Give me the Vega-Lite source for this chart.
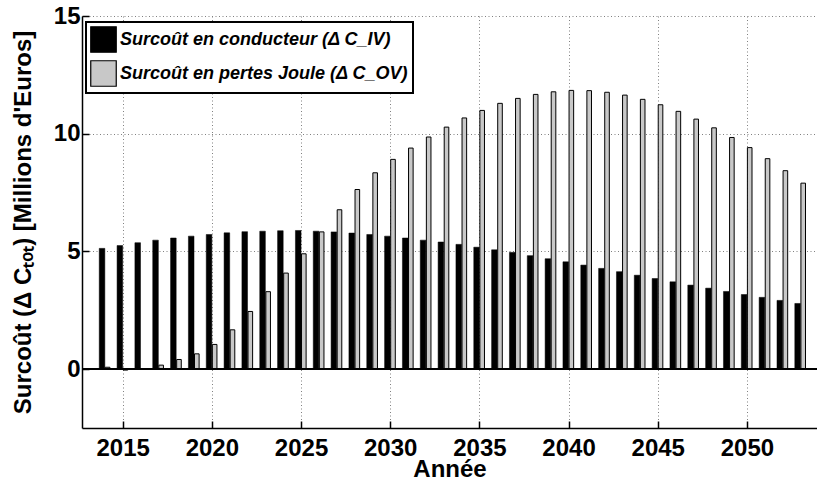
{
  "$schema": "https://vega.github.io/schema/vega-lite/v6.json",
  "width": 735,
  "height": 412,
  "autosize": {"type": "none"},
  "padding": {"left": 82, "top": 16, "right": 0, "bottom": 53},
  "background": "white",
  "config": {
    "view": {"stroke": null},
    "font": "Liberation Sans",
    "axis": {
      "labelFont": "Liberation Sans",
      "labelFontSize": 24,
      "labelFontWeight": "bold",
      "labelColor": "black",
      "titleFont": "Liberation Sans",
      "titleFontSize": 24,
      "titleFontWeight": "bold",
      "titleColor": "black",
      "domainColor": "black",
      "domainWidth": 1.5,
      "tickColor": "black",
      "tickWidth": 1.5,
      "grid": true,
      "gridColor": "#808080",
      "gridDash": [1, 2.5],
      "gridWidth": 1
    },
    "legend": {
      "orient": "none",
      "legendX": 4,
      "legendY": 6,
      "strokeColor": "black",
      "strokeWidth": 2,
      "fillColor": "white",
      "padding": 4,
      "symbolType": "square",
      "symbolSize": 650,
      "symbolStrokeColor": "black",
      "symbolStrokeWidth": 1.2,
      "labelFont": "Liberation Sans",
      "labelFontSize": 18,
      "labelFontStyle": "italic",
      "labelFontWeight": "bold",
      "labelColor": "black",
      "labelOffset": 3,
      "rowPadding": 3,
      "labelLimit": 400
    }
  },
  "data": {
    "values": [
      {"year": 2014, "cond": 5.13, "joule": 0.08},
      {"year": 2015, "cond": 5.25, "joule": -0.04},
      {"year": 2016, "cond": 5.37, "joule": 0.01},
      {"year": 2017, "cond": 5.48, "joule": 0.17},
      {"year": 2018, "cond": 5.57, "joule": 0.41},
      {"year": 2019, "cond": 5.65, "joule": 0.65},
      {"year": 2020, "cond": 5.72, "joule": 1.05},
      {"year": 2021, "cond": 5.79, "joule": 1.67},
      {"year": 2022, "cond": 5.84, "joule": 2.45},
      {"year": 2023, "cond": 5.86, "joule": 3.29},
      {"year": 2024, "cond": 5.88, "joule": 4.08},
      {"year": 2025, "cond": 5.89, "joule": 4.90},
      {"year": 2026, "cond": 5.86, "joule": 5.83},
      {"year": 2027, "cond": 5.83, "joule": 6.77},
      {"year": 2028, "cond": 5.78, "joule": 7.63},
      {"year": 2029, "cond": 5.72, "joule": 8.34},
      {"year": 2030, "cond": 5.65, "joule": 8.91},
      {"year": 2031, "cond": 5.57, "joule": 9.39},
      {"year": 2032, "cond": 5.48, "joule": 9.86},
      {"year": 2033, "cond": 5.40, "joule": 10.28},
      {"year": 2034, "cond": 5.30, "joule": 10.67},
      {"year": 2035, "cond": 5.18, "joule": 10.99},
      {"year": 2036, "cond": 5.07, "joule": 11.29},
      {"year": 2037, "cond": 4.96, "joule": 11.50},
      {"year": 2038, "cond": 4.82, "joule": 11.67},
      {"year": 2039, "cond": 4.69, "joule": 11.78},
      {"year": 2040, "cond": 4.56, "joule": 11.84},
      {"year": 2041, "cond": 4.42, "joule": 11.83},
      {"year": 2042, "cond": 4.28, "joule": 11.76},
      {"year": 2043, "cond": 4.14, "joule": 11.64},
      {"year": 2044, "cond": 3.99, "joule": 11.46},
      {"year": 2045, "cond": 3.85, "joule": 11.23},
      {"year": 2046, "cond": 3.71, "joule": 10.95},
      {"year": 2047, "cond": 3.57, "joule": 10.62},
      {"year": 2048, "cond": 3.44, "joule": 10.25},
      {"year": 2049, "cond": 3.30, "joule": 9.84},
      {"year": 2050, "cond": 3.17, "joule": 9.41},
      {"year": 2051, "cond": 3.05, "joule": 8.94},
      {"year": 2052, "cond": 2.92, "joule": 8.43},
      {"year": 2053, "cond": 2.79, "joule": 7.90}
    ]
  },
  "layer": [
    {
      "mark": {"type": "bar", "width": 5.6, "xOffset": -2.8, "stroke": "black", "strokeWidth": 0.5},
      "encoding": {
        "x": {
          "field": "year",
          "type": "quantitative",
          "scale": {"domain": [2013, 2053.65], "nice": false, "zero": false},
          "axis": {
            "title": "Année",
            "values": [2015, 2020, 2025, 2030, 2035, 2040, 2045, 2050],
            "format": "d",
            "tickSize": -7,
            "labelPadding": 15,
            "titlePadding": -3
          }
        },
        "y": {
          "field": "cond",
          "type": "quantitative",
          "scale": {"domain": [-2.5, 15], "nice": false},
          "axis": {
            "title": "Surcoût (Δ Cₜₒₜ) [Millions d'Euros]",
            "values": [0, 5, 10, 15],
            "tickSize": -7,
            "labelPadding": 9,
            "titlePadding": 18
          }
        },
        "color": {
          "datum": "Surcoût en conducteur (Δ C_IV)",
          "type": "nominal",
          "scale": {
            "domain": ["Surcoût en conducteur (Δ C_IV)", "Surcoût en pertes Joule (Δ C_OV)"],
            "range": ["black", "#c8c8c8"]
          },
          "legend": {"title": null}
        }
      }
    },
    {
      "mark": {"type": "bar", "width": 4.6, "xOffset": 2.8, "stroke": "black", "strokeWidth": 1},
      "encoding": {
        "x": {"field": "year", "type": "quantitative"},
        "y": {"field": "joule", "type": "quantitative"},
        "color": {"datum": "Surcoût en pertes Joule (Δ C_OV)", "type": "nominal"}
      }
    },
    {
      "mark": {"type": "rule", "color": "black", "strokeWidth": 1.5},
      "encoding": {"y": {"datum": 0}}
    }
  ]
}
